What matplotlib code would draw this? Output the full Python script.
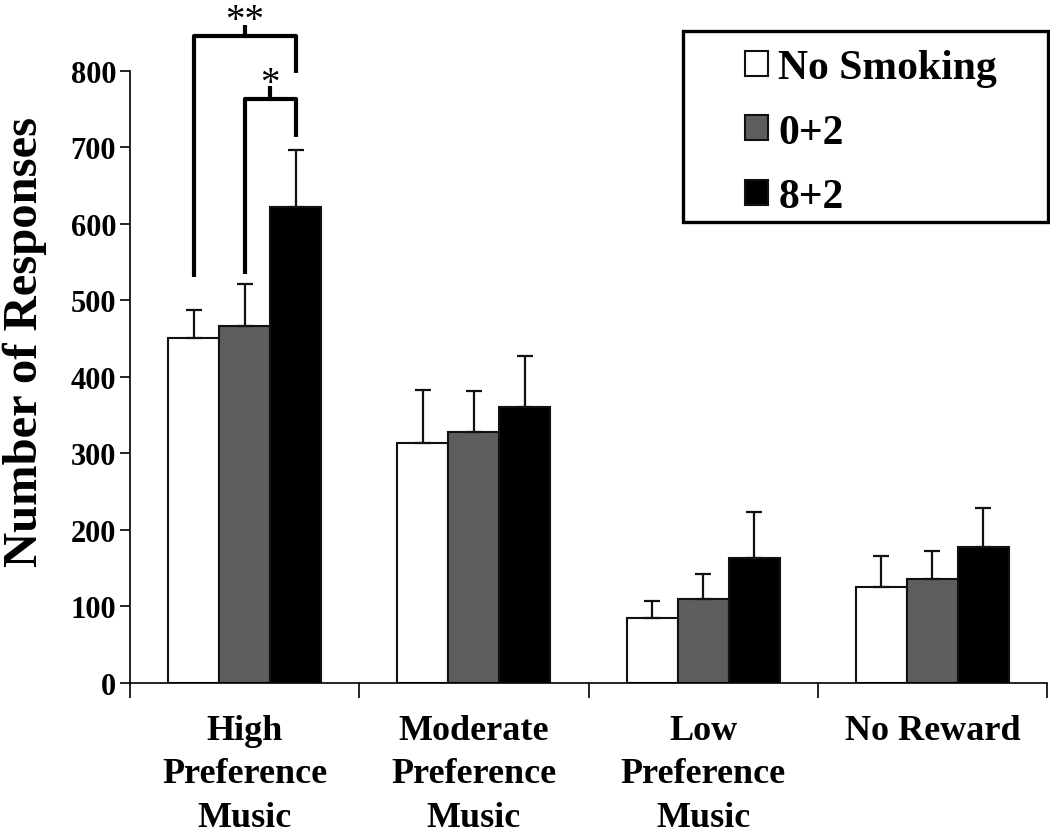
import numpy as np
import matplotlib
matplotlib.use("Agg")
import matplotlib.pyplot as plt
from matplotlib.patches import Rectangle

plt.rcParams["font.family"] = ["Liberation Serif", "DejaVu Serif"]
plt.rcParams["font.weight"] = "bold"

categories = ["High\nPreference\nMusic", "Moderate\nPreference\nMusic",
              "Low\nPreference\nMusic", "No Reward"]
series = ["No Smoking", "0+2", "8+2"]
means = {
    "No Smoking": [451, 314, 85, 125],
    "0+2": [466, 328, 110, 136],
    "8+2": [622, 361, 164, 178],
}
errors = {
    "No Smoking": [36, 69, 22, 41],
    "0+2": [55, 53, 33, 37],
    "8+2": [74, 66, 59, 51],
}
colors = {"No Smoking": "white", "0+2": "#5e5e5e", "8+2": "black"}
yticks = [0, 100, 200, 300, 400, 500, 600, 700, 800]

fig = plt.figure(figsize=(10.5, 8.37), dpi=100)
ax = fig.add_axes([130 / 1050, 1 - 684 / 837, 917 / 1050, 684 / 837])

x = np.arange(len(categories)) + 0.5
width = 0.2225
offsets = [-width, 0, width]
handles = []
for name, off in zip(series, offsets):
    b = ax.bar(x + off, means[name], width, color=colors[name],
               edgecolor="#111111", linewidth=1.5, label=name, zorder=2)
    ax.errorbar(x + off, means[name], yerr=[np.zeros(4), errors[name]],
                fmt="none", ecolor="#111111", elinewidth=1.6, capsize=5.5,
                capthick=1.6, zorder=3)
    handles.append(b)

ax.set_xlim(0, 4)
ax.set_ylim(0, 894)
ax.spines["top"].set_visible(False)
ax.spines["right"].set_visible(False)
ax.spines["left"].set_bounds(0, 800)
ax.spines["left"].set_linewidth(1.2)
ax.spines["bottom"].set_linewidth(1.2)

ax.set_yticks(yticks)
ax.set_yticklabels([str(v) for v in yticks], fontsize=22, fontweight="bold")
ax.tick_params(axis="y", direction="out", length=7, width=1.2, pad=3)

ax.set_xticks(np.arange(0, 5))
ax.set_xticklabels([])
ax.tick_params(axis="x", which="major", direction="out", length=11, width=1.2)
ax.set_xticks(x, minor=True)
ax.set_xticklabels(categories, minor=True, fontsize=26, fontweight="bold",
                   linespacing=1.42)
ax.tick_params(axis="x", which="minor", length=0, pad=22)

ax.set_ylabel("Number of Responses", fontsize=35, fontweight="bold", labelpad=17)

# significance brackets
g0 = x[0]
xw, xg, xb = g0 + offsets[0], g0 + offsets[1], g0 + offsets[2]
br = dict(color="black", linewidth=3, solid_joinstyle="round",
          solid_capstyle="butt", clip_on=False, zorder=4)
ax.plot([xw, xw, xb, xb], [531, 846, 846, 797], **br)
ax.plot([(xw + xb) / 2] * 2, [846, 860], **br)
ax.plot([xg, xg, xb, xb], [534, 763, 763, 714], **br)
ax.plot([(xg + xb) / 2] * 2, [763, 780], **br)
ax.text((xw + xb) / 2, 866, "**", ha="center", va="center", fontsize=28,
        fontweight="normal")
ax.text((xg + xb) / 2, 783, "*", ha="center", va="center", fontsize=28,
        fontweight="normal")

# legend
leg = ax.legend(handles=handles, labels=series, loc="upper left",
                bbox_to_anchor=(745 / 1050, 1 - 50 / 837),
                bbox_transform=fig.transFigure, frameon=False,
                prop={"weight": "bold", "size": 30},
                handlelength=0.55, handleheight=0.55, handletextpad=0.25,
                labelspacing=0.64, borderpad=0, borderaxespad=0)
fig.patches.append(Rectangle((683 / 1050, 1 - 223 / 837), 365 / 1050, 191 / 837,
                             transform=fig.transFigure, fill=False,
                             edgecolor="black", linewidth=2.4))

fig.savefig("out.png", dpi=100)
